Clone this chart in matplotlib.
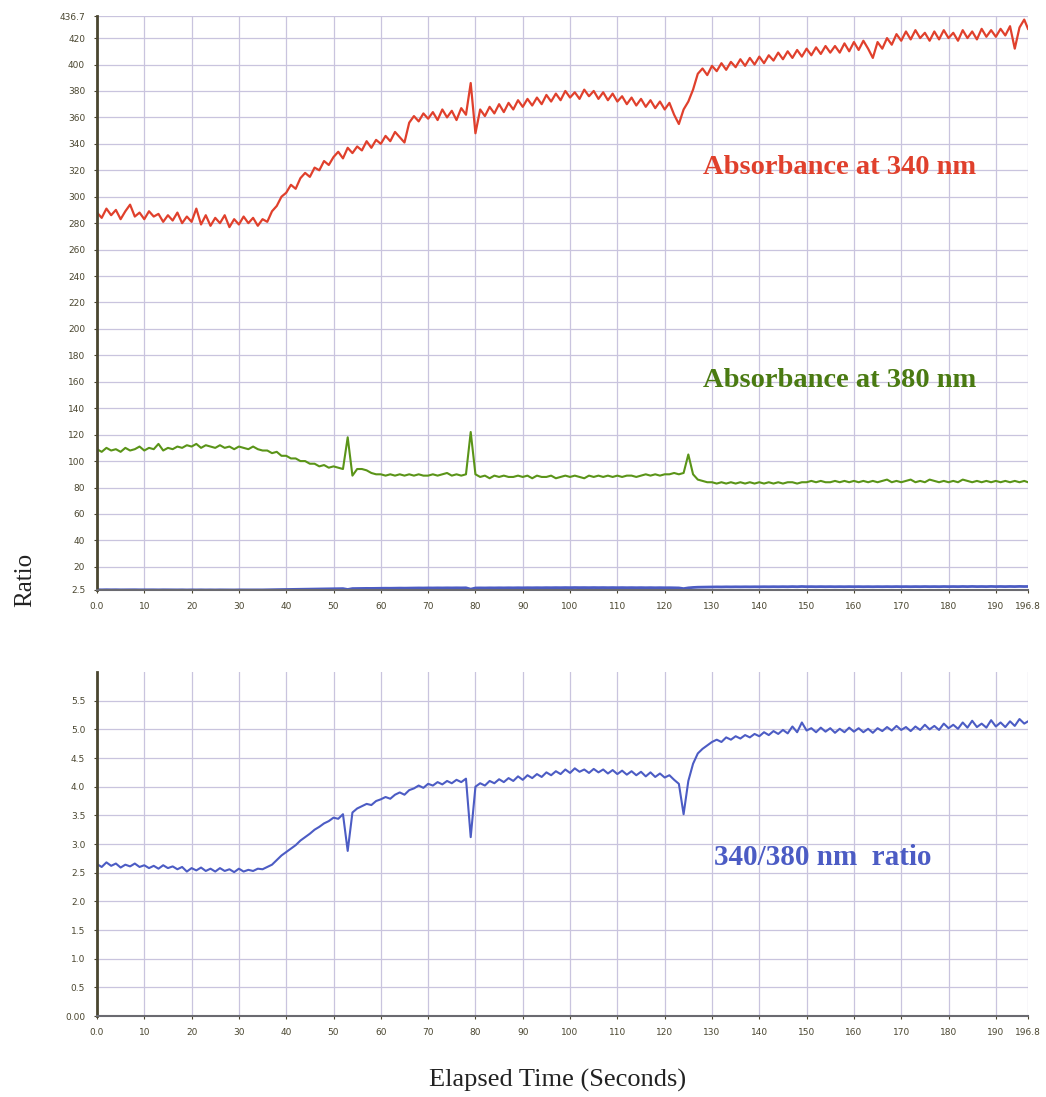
import numpy as np
import matplotlib
matplotlib.use('Agg')
import matplotlib.pyplot as plt

# Elapsed time (s), one reading per second, last point at 196.8 s
time_s = list(range(0, 197)) + [196.8]

# Absorbance at 340 nm
abs_340 = [
    288, 284, 291, 286, 290, 283, 289, 294, 285, 288,
    283, 289, 285, 287, 281, 286, 282, 288, 280, 285,
    281, 291, 279, 286, 278, 284, 280, 286, 277, 283,
    279, 285, 280, 284, 278, 283, 281, 289, 293, 300,
    303, 309, 306, 314, 318, 315, 322, 320, 327, 324,
    330, 334, 329, 337, 333, 338, 335, 342, 337, 343,
    340, 346, 342, 349, 345, 341, 356, 361, 357, 363,
    359, 364, 358, 366, 360, 365, 358, 367, 362, 386,
    348, 366, 361, 368, 363, 370, 364, 371, 366, 373,
    368, 374, 369, 375, 370, 377, 372, 378, 373, 380,
    375, 379, 374, 381, 376, 380, 374, 379, 373, 378,
    372, 376, 370, 375, 369, 374, 368, 373, 367, 372,
    366, 371, 362, 355, 366, 372, 381, 393, 397, 392,
    399, 395, 401, 396, 402, 398, 404, 399, 405, 400,
    406, 401, 407, 403, 409, 404, 410, 405, 411, 406,
    412, 407, 413, 408, 414, 409, 414, 409, 416, 410,
    417, 411, 418, 412, 405, 417, 412, 420, 415, 423,
    418, 425, 419, 426, 420, 424, 418, 425, 419, 426,
    420, 424, 418, 426, 420, 425, 419, 427, 421, 426,
    421, 427, 422, 429, 412, 428, 434, 427,
]

# Absorbance at 380 nm
abs_380 = [
    109, 107, 110, 108, 109, 107, 110, 108, 109, 111,
    108, 110, 109, 113, 108, 110, 109, 111, 110, 112,
    111, 113, 110, 112, 111, 110, 112, 110, 111, 109,
    111, 110, 109, 111, 109, 108, 108, 106, 107, 104,
    104, 102, 102, 100, 100, 98, 98, 96, 97, 95,
    96, 95, 94, 118, 89, 94, 94, 93, 91, 90,
    90, 89, 90, 89, 90, 89, 90, 89, 90, 89,
    89, 90, 89, 90, 91, 89, 90, 89, 90, 122,
    90, 88, 89, 87, 89, 88, 89, 88, 88, 89,
    88, 89, 87, 89, 88, 88, 89, 87, 88, 89,
    88, 89, 88, 87, 89, 88, 89, 88, 89, 88,
    89, 88, 89, 89, 88, 89, 90, 89, 90, 89,
    90, 90, 91, 90, 91, 105, 90, 86, 85, 84,
    84, 83, 84, 83, 84, 83, 84, 83, 84, 83,
    84, 83, 84, 83, 84, 83, 84, 84, 83, 84,
    84, 85, 84, 85, 84, 84, 85, 84, 85, 84,
    85, 84, 85, 84, 85, 84, 85, 86, 84, 85,
    84, 85, 86, 84, 85, 84, 86, 85, 84, 85,
    84, 85, 84, 86, 85, 84, 85, 84, 85, 84,
    85, 84, 85, 84, 85, 84, 85, 84,
]

# 340/380 nm ratio (lower panel)
ratio = [
    2.65, 2.60, 2.68, 2.62, 2.66, 2.59, 2.64, 2.61, 2.66, 2.60,
    2.63, 2.58, 2.62, 2.57, 2.63, 2.58, 2.61, 2.56, 2.60, 2.52,
    2.58, 2.54, 2.59, 2.53, 2.57, 2.52, 2.58, 2.53, 2.56, 2.51,
    2.57, 2.52, 2.55, 2.53, 2.57, 2.56, 2.60, 2.64, 2.72, 2.80,
    2.86, 2.92, 2.98, 3.06, 3.12, 3.18, 3.25, 3.30, 3.36, 3.40,
    3.46, 3.44, 3.52, 2.88, 3.55, 3.62, 3.66, 3.70, 3.68, 3.75,
    3.78, 3.82, 3.79, 3.86, 3.90, 3.86, 3.94, 3.97, 4.02, 3.98,
    4.05, 4.02, 4.08, 4.04, 4.10, 4.06, 4.12, 4.08, 4.14, 3.12,
    4.00, 4.06, 4.02, 4.10, 4.06, 4.13, 4.08, 4.15, 4.10, 4.18,
    4.12, 4.20, 4.15, 4.22, 4.17, 4.25, 4.20, 4.27, 4.22, 4.30,
    4.24, 4.32, 4.26, 4.30, 4.24, 4.31, 4.25, 4.30, 4.23, 4.29,
    4.22, 4.28, 4.21, 4.27, 4.20, 4.26, 4.18, 4.25, 4.17, 4.23,
    4.16, 4.20, 4.12, 4.05, 3.52, 4.10, 4.40, 4.58, 4.66, 4.72,
    4.78, 4.82, 4.78, 4.86, 4.82, 4.88, 4.84, 4.90, 4.86, 4.92,
    4.88, 4.95, 4.90, 4.97, 4.92, 4.99, 4.93, 5.05, 4.95, 5.12,
    4.98, 5.02, 4.95, 5.03, 4.96, 5.02, 4.94, 5.01, 4.95, 5.03,
    4.96, 5.02, 4.95, 5.01, 4.94, 5.02, 4.97, 5.04, 4.98, 5.06,
    4.99, 5.04, 4.97, 5.05, 4.99, 5.08, 5.00, 5.06, 4.99, 5.10,
    5.02, 5.08, 5.01, 5.12, 5.03, 5.15, 5.04, 5.10, 5.03, 5.16,
    5.05, 5.12, 5.04, 5.14, 5.06, 5.18, 5.10, 5.14,
]

# Axis ticks
x_ticks = list(range(0, 200, 10)) + [196.8]
x_labels = ['0.0'] + [str(v) for v in range(10, 200, 10)] + ['196.8']
top_ticks = [2.5] + list(range(20, 440, 20)) + [436.7]
top_labels = ['2.5'] + [str(v) for v in range(20, 440, 20)] + ['436.7']
bot_ticks = [0.0, 0.5, 1.0, 1.5, 2.0, 2.5, 3.0, 3.5, 4.0, 4.5, 5.0, 5.5]
bot_labels = ['0.00'] + ['%.1f' % v for v in bot_ticks[1:]]

RED = '#e0402c'
GREEN = '#5a9418'
BLUE = '#4c5cc4'
GRID = '#c9c4de'
TICKCOL = '#4a4630'
SERIF = 'Liberation Serif'

fig = plt.figure(figsize=(10.46, 10.97), dpi=100)
ax1 = fig.add_axes([0.0927, 0.4622, 0.8901, 0.5232])
ax2 = fig.add_axes([0.0927, 0.0738, 0.8901, 0.3136])


def style_axis(ax, yticks, ylabels):
    ax.set_xlim(0, 196.8)
    ax.set_xticks(x_ticks)
    ax.set_xticklabels(x_labels)
    ax.set_yticks(yticks)
    ax.set_yticklabels(ylabels)
    ax.grid(True, color=GRID, linewidth=0.9)
    ax.set_axisbelow(True)
    for side in ['top', 'right']:
        ax.spines[side].set_visible(False)
    ax.spines['left'].set_color('#4a4630')
    ax.spines['left'].set_linewidth(2.0)
    ax.spines['bottom'].set_color('#6a6a70')
    ax.spines['bottom'].set_linewidth(1.5)
    ax.tick_params(axis='both', labelsize=6.5, colors=TICKCOL, length=2.5,
                   width=0.8, pad=6)


ax1.plot(time_s, abs_340, color=RED, linewidth=1.6)
ax1.plot(time_s, abs_380, color=GREEN, linewidth=1.5)
ax1.plot(time_s, ratio, color=BLUE, linewidth=2.0)
ax1.set_ylim(2.5, 436.7)
style_axis(ax1, top_ticks, top_labels)

ax2.plot(time_s, ratio, color=BLUE, linewidth=1.5)
ax2.set_ylim(0, 6.0)
style_axis(ax2, bot_ticks, bot_labels)

ax1.text(157, 322, 'Absorbance at 340 nm', color=RED, fontsize=20.5,
         fontweight='bold', family=SERIF, ha='center', va='center')
ax1.text(157, 161, 'Absorbance at 380 nm', color='#4a7a12', fontsize=20.5,
         fontweight='bold', family=SERIF, ha='center', va='center')
ax2.text(153.5, 2.77, '340/380 nm  ratio', color=BLUE, fontsize=21,
         fontweight='bold', family=SERIF, ha='center', va='center')

fig.text(25 / 1046, 1 - 580 / 1097, 'Ratio', rotation=90, fontsize=18,
         family=SERIF, ha='center', va='center', color='#222222')
fig.text(558 / 1046, 1 - 1080 / 1097, 'Elapsed Time (Seconds)', fontsize=19,
         family=SERIF, ha='center', va='center', color='#222222')

fig.savefig('out.png', dpi=100)
